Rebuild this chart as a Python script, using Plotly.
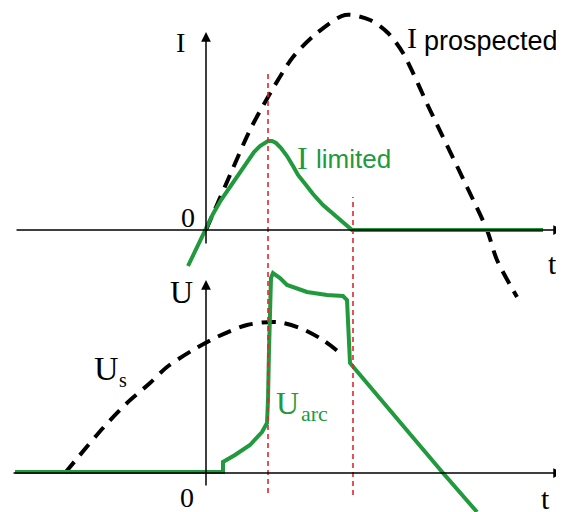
import plotly.graph_objects as go

# current panel (top): t vs I, origin at the axis crossing
i_prosp_t = [0, 24, 44, 62, 87, 111, 139, 164, 182, 197, 224, 261, 281, 291, 311]
i_prosp_v = [0, 55, 100, 133, 173, 197, 215, 210, 197, 177, 120, 43, 0, -30, -67]

i_lim_t = [-18, -9, 0, 7, 15, 24, 33, 41, 48, 54, 58, 62, 66, 70, 75, 81, 87, 92,
           100, 107, 117, 127, 137, 146, 337]
i_lim_v = [-36, -17, 0, 16, 30, 43, 57, 69, 78, 84, 87, 89, 89, 87, 82, 74, 64, 55,
           45, 36, 25, 16, 8, 0, 0]

# voltage panel (bottom): t vs U
u_s_t = [-141, -103, -79, -56, -39, -13, 11, 41, 71, 94, 117, 134]
u_s_v = [0, 45, 70, 90, 106, 123, 136, 148, 151, 145, 133, 120]

u_arc_t = [-191, 17, 17, 29, 44, 56, 61, 62, 63, 64, 65, 67, 74, 81, 101, 121, 137, 141, 142, 144, 237, 271]
u_arc_v = [1, 1, 11, 18, 28, 41, 50, 73, 123, 173, 195, 200, 195, 188, 181, 178, 177, 173, 143, 110, 0, -39]

# instants: current peak (limiter acts) and current zero
t_events = [62, 147]
event_top = [160, 33]      # in I units
event_bottom = [-263, -265]

green = "#21993d"
red = "#e3262c"
serif = "Liberation Serif"
sans = "Liberation Sans"

fig = go.Figure()

fig.add_trace(go.Scatter(x=i_prosp_t, y=i_prosp_v, mode="lines", yaxis="y",
                         line=dict(color="black", width=4, dash="14px,9px", shape="spline", smoothing=0.8)))
fig.add_trace(go.Scatter(x=u_s_t, y=u_s_v, mode="lines", yaxis="y2",
                         line=dict(color="black", width=4, dash="14px,9px", shape="spline", smoothing=0.8)))
fig.add_trace(go.Scatter(x=i_lim_t, y=i_lim_v, mode="lines", yaxis="y",
                         line=dict(color=green, width=4)))
fig.add_trace(go.Scatter(x=u_arc_t, y=u_arc_v, mode="lines", yaxis="y2",
                         line=dict(color=green, width=4)))

shapes = []
for t, y0, y1 in zip(t_events, event_bottom, event_top):
    shapes.append(dict(type="line", xref="x", yref="y", x0=t, x1=t, y0=y0, y1=y1,
                       line=dict(color=red, width=1.6, dash="5px,4px"), layer="above"))

ann = []
# axes with arrows
ann.append(dict(x=357, y=0, ax=-191, ay=0, xref="x", yref="y", axref="x", ayref="y",
                showarrow=True, arrowhead=2, arrowsize=1.3, arrowwidth=1.5, arrowcolor="black", text=""))
ann.append(dict(x=0, y=198, ax=0, ay=-15, xref="x", yref="y", axref="x", ayref="y",
                showarrow=True, arrowhead=2, arrowsize=1.3, arrowwidth=1.5, arrowcolor="black", text=""))
ann.append(dict(x=357, y=0, ax=-194, ay=0, xref="x", yref="y2", axref="x", ayref="y2",
                showarrow=True, arrowhead=2, arrowsize=1.3, arrowwidth=1.5, arrowcolor="black", text=""))
ann.append(dict(x=0, y=193, ax=0, ay=-14, xref="x", yref="y2", axref="x", ayref="y2",
                showarrow=True, arrowhead=2, arrowsize=1.3, arrowwidth=1.5, arrowcolor="black", text=""))


def label(x, y, text, yref="y", size=28, color="black", family=serif, xanchor="center"):
    ann.append(dict(x=x, y=y, xref="x", yref=yref, text=text, showarrow=False,
                    xanchor=xanchor, yanchor="middle",
                    font=dict(family=family, size=size, color=color)))


label(-26, 188, "I", size=28)
label(-18, 13, "0", size=28)
label(346, -33, "t", size=30)
label(206, 193, "I", size=30)
label(216, 189, "prospected", size=27, family=sans, xanchor="left")
label(96, 72, "I", size=32, color=green)
label(108, 71, "limited", size=26, family=sans, color=green, xanchor="left")

label(-25, 181, "U", yref="y2", size=32)
label(-100, 105, "U", yref="y2", size=34)
label(-83, 93, "s", yref="y2", size=20)
label(81, 70, "U", yref="y2", size=32, color=green)
label(108, 60, "arc", yref="y2", size=22, color=green)
label(-19, -24, "0", yref="y2", size=28)
label(339, -25, "t", yref="y2", size=30)

# the page body keeps an 8px margin, so the figure is 8px smaller and
# the axis ranges start 8px in
fig.update_layout(
    width=556, height=504,
    margin=dict(l=0, r=0, t=0, b=0),
    showlegend=False,
    plot_bgcolor="white", paper_bgcolor="white",
    xaxis=dict(range=[-198, 358], visible=False, fixedrange=True),
    yaxis=dict(range=[-282, 222], visible=False, fixedrange=True),
    yaxis2=dict(range=[-39, 465], visible=False, overlaying="y", fixedrange=True),
    shapes=shapes,
    annotations=ann,
)

fig.write_html("out.html")
